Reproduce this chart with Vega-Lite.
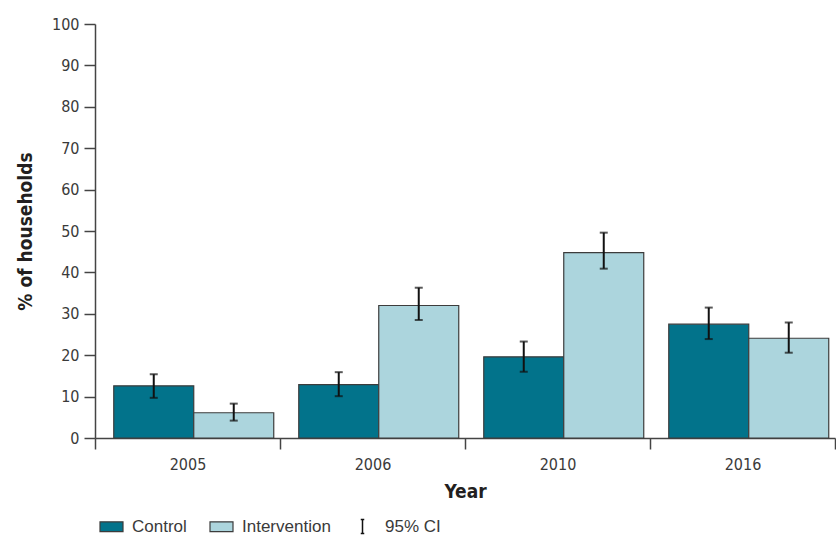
{
  "$schema": "https://vega.github.io/schema/vega-lite/v6.json",
  "width": 740,
  "height": 414,
  "autosize": {"type": "none"},
  "padding": {"left": 95, "top": 24, "right": 1, "bottom": 98},
  "config": {
    "view": {"stroke": null},
    "font": "DejaVu Sans Condensed, Liberation Sans, sans-serif",
    "axis": {"grid": false, "domainColor": "#444", "domainWidth": 1.5, "tickColor": "#444", "tickWidth": 1.5, "labelColor": "#3a3a3a", "titleColor": "#231f20"}
  },
  "data": {
    "values": [
      {"year": "2005", "group": "Control", "value": 12.6, "lo": 9.7, "hi": 15.4},
      {"year": "2005", "group": "Intervention", "value": 6.1, "lo": 4.2, "hi": 8.3},
      {"year": "2006", "group": "Control", "value": 12.9, "lo": 10.1, "hi": 15.9},
      {"year": "2006", "group": "Intervention", "value": 32.0, "lo": 28.5, "hi": 36.3},
      {"year": "2010", "group": "Control", "value": 19.6, "lo": 16.0, "hi": 23.3},
      {"year": "2010", "group": "Intervention", "value": 44.8, "lo": 40.9, "hi": 49.6},
      {"year": "2016", "group": "Control", "value": 27.5, "lo": 23.9, "hi": 31.5},
      {"year": "2016", "group": "Intervention", "value": 24.1, "lo": 20.6, "hi": 27.9}
    ]
  },
  "encoding": {
    "x": {
      "field": "year",
      "type": "nominal",
      "scale": {"paddingInner": 0, "paddingOuter": 0},
      "axis": {
        "title": "Year",
        "titleFontSize": 19,
        "titleFontWeight": "bold",
        "titlePadding": 10,
        "labelAngle": 0,
        "labelFontSize": 16,
        "labelPadding": 7,
        "tickSize": 11,
        "tickBand": "extent"
      }
    },
    "xOffset": {
      "field": "group",
      "type": "nominal",
      "scale": {"paddingInner": 0, "paddingOuter": 0.15625, "align": 0.75}
    }
  },
  "layer": [
    {
      "mark": {"type": "bar", "stroke": "#3c3c3c", "strokeWidth": 1.2},
      "encoding": {
        "y": {
          "field": "value",
          "type": "quantitative",
          "scale": {"domain": [0, 100], "nice": false},
          "axis": {
            "title": "% of households",
            "titleFontSize": 19,
            "titleFontWeight": "bold",
            "titlePadding": 16,
            "values": [0, 10, 20, 30, 40, 50, 60, 70, 80, 90, 100],
            "labelFontSize": 16,
            "labelPadding": 5,
            "tickSize": 11
          }
        },
        "fill": {
          "field": "group",
          "type": "nominal",
          "scale": {"domain": ["Control", "Intervention"], "range": ["#02738b", "#acd5dd"]},
          "legend": {
            "title": null,
            "orient": "none",
            "direction": "horizontal",
            "legendX": 4,
            "legendY": 490,
            "padding": 0,
            "symbolType": "M-1,-0.43H1V0.43H-1Z",
            "symbolSize": 529,
            "symbolStrokeColor": "#3c3c3c",
            "symbolStrokeWidth": 1.2,
            "labelFont": "Liberation Sans",
            "labelFontSize": 17,
            "labelColor": "#3a3a3a",
            "labelOffset": 8,
            "columnPadding": 20
          }
        }
      }
    },
    {
      "mark": {"type": "rule", "color": "#111", "strokeWidth": 2},
      "encoding": {
        "y": {"field": "lo", "type": "quantitative"},
        "y2": {"field": "hi"}
      }
    },
    {
      "mark": {"type": "tick", "color": "#111", "size": 8, "thickness": 2},
      "encoding": {"y": {"field": "lo", "type": "quantitative"}}
    },
    {
      "mark": {"type": "tick", "color": "#111", "size": 8, "thickness": 2},
      "encoding": {"y": {"field": "hi", "type": "quantitative"}}
    },
    {
      "mark": {"type": "point", "opacity": 0, "filled": false},
      "encoding": {
        "y": {"field": "value", "type": "quantitative"},
        "shape": {
          "datum": "95% CI",
          "scale": {"range": ["M-0.25,-1H0.25M0,-1V1M-0.25,1H0.25"]},
          "legend": {
            "title": null,
            "orient": "none",
            "legendX": 259,
            "legendY": 494,
            "padding": 0,
            "symbolSize": 196,
            "symbolOpacity": 1,
            "symbolStrokeColor": "#111",
            "symbolFillColor": "transparent",
            "symbolStrokeWidth": 1.5,
            "labelFont": "Liberation Sans",
            "labelFontSize": 17,
            "labelColor": "#3a3a3a",
            "labelOffset": 14
          }
        }
      }
    }
  ]
}
